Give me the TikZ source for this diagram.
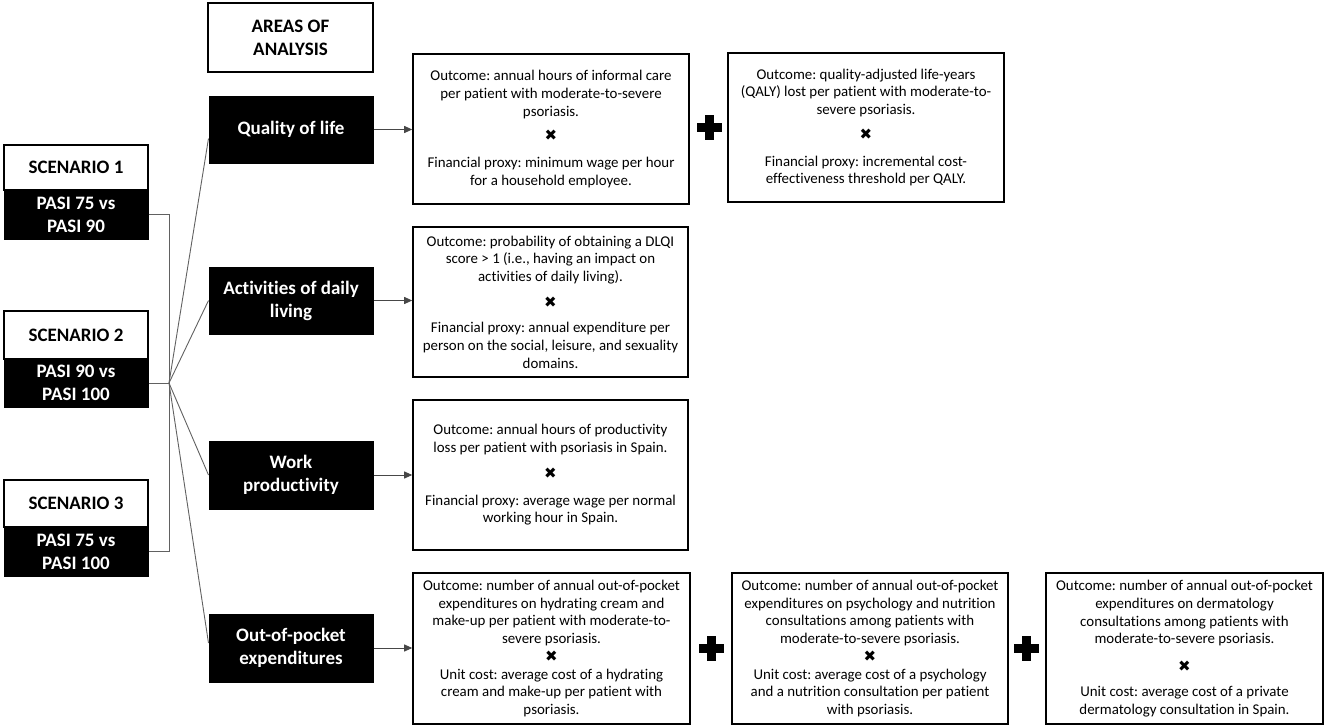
\documentclass[tikz,border=0pt]{standalone}
\usepackage{fontspec}
\setmainfont{Carlito}[Ligatures=NoCommon]
\newfontfamily\dejavu{DejaVu Sans}
\usetikzlibrary{arrows.meta,calc}
\newcommand\mulx{{\dejavu\fontsize{15}{15}\selectfont ✖}}
\frenchspacing
\begin{document}
\begin{tikzpicture}[x=1pt,y=-1pt,
  hfont/.style={font=\fontsize{19}{23}\selectfont\bfseries},
  whitebox/.style={hfont,draw=black,line width=1.5pt,fill=white,align=center,inner sep=0pt},
  blackbox/.style={hfont,draw=black,line width=1pt,fill=black,text=white,align=center,inner sep=0pt},
  outbox/.style={draw=black,line width=1.6pt,align=center,inner sep=0pt,font=\fontsize{14.9}{17.7}\selectfont},
  conn/.style={draw=black!62,line width=0.9pt},
  arr/.style={draw=black!72,line width=0.9pt,-{Triangle[length=8pt,width=7pt]}},
  plussign/.style={fill=black}
]
\useasboundingbox (0,0) rectangle (1325,728);

% header
\node[whitebox,minimum width=165pt,minimum height=69pt] (areas) at (290.5,37.5) {AREAS OF\\ANALYSIS};

% scenarios
\node[whitebox,minimum width=144pt,minimum height=45pt] (s1w) at (76,167.5) {SCENARIO 1};
\node[blackbox,minimum width=144pt,minimum height=49pt] (s1b) at (76,214.5) {PASI 75 vs\\PASI 90};
\node[whitebox,minimum width=144pt,minimum height=48pt] (s2w) at (76,335) {SCENARIO 2};
\node[blackbox,minimum width=144pt,minimum height=48pt] (s2b) at (76,383) {PASI 90 vs\\PASI 100};
\node[whitebox,minimum width=144pt,minimum height=47pt] (s3w) at (76,503.5) {SCENARIO 3};
\node[blackbox,minimum width=144pt,minimum height=49pt] (s3b) at (76,551.5) {PASI 75 vs\\PASI 100};

% areas
\node[blackbox,minimum width=164pt,minimum height=67pt] (qol) at (291,129.5) {Quality of life};
\node[blackbox,minimum width=164pt,minimum height=67pt] (adl) at (291,300.5) {Activities of daily\\living};
\node[blackbox,minimum width=164pt,minimum height=68pt] (work) at (291,475) {Work\\productivity};
\node[blackbox,minimum width=164pt,minimum height=68pt] (oop) at (291,648) {Out-of-pocket\\expenditures};

% outcome boxes
\node[outbox,minimum width=276pt,minimum height=150pt] (q1) at (551,129) {Outcome: annual hours of informal care\\per patient with moderate-to-severe\\psoriasis.\\[7pt]\mulx\\[9pt]Financial proxy: minimum wage per hour\\for a household employee.};
\node[outbox,minimum width=276pt,minimum height=149pt] (q2) at (866,127.5) {Outcome: quality-adjusted life-years\\(QALY) lost per patient with moderate-to-\\severe psoriasis.\\[7pt]\mulx\\[9pt]Financial proxy: incremental cost-\\effectiveness threshold per QALY.};
\node[outbox,minimum width=275pt,minimum height=150pt] (a1) at (550.5,302) {Outcome: probability of obtaining a DLQI\\score > 1 (i.e., having an impact on\\activities of daily living).\\[8pt]\mulx\\[8pt]Financial proxy: annual expenditure per\\person on the social, leisure, and sexuality\\domains.};
\node[outbox,minimum width=275pt,minimum height=150pt] (w1) at (550.5,475) {Outcome: annual hours of productivity\\loss per patient with psoriasis in Spain.\\[8pt]\mulx\\[9pt]Financial proxy: average wage per normal\\working hour in Spain.};
\node[outbox,minimum width=277pt,minimum height=151pt] (o1) at (551.5,648.5) {Outcome: number of annual out-of-pocket\\expenditures on hydrating cream and\\make-up per patient with moderate-to-\\severe psoriasis.\\\mulx\\Unit cost: average cost of a hydrating\\cream and make-up per patient with\\psoriasis.};
\node[outbox,minimum width=276pt,minimum height=151pt] (o2) at (870,648.5) {Outcome: number of annual out-of-pocket\\expenditures on psychology and nutrition\\consultations among patients with\\moderate-to-severe psoriasis.\\\mulx\\Unit cost: average cost of a psychology\\and a nutrition consultation per patient\\with psoriasis.};
\node[outbox,minimum width=277pt,minimum height=151pt] (o3) at (1184.5,648.5) {Outcome: number of annual out-of-pocket\\expenditures on dermatology\\consultations among patients with\\moderate-to-severe psoriasis.\\[10pt]\mulx\\[7pt]Unit cost: average cost of a private\\dermatology consultation in Spain.};

% plus signs
\foreach \cx/\cy in {709/127, 711/648, 1026/648}{
  \fill[plussign] (\cx-12.5,\cy-4.5) rectangle (\cx+12.5,\cy+4.5);
  \fill[plussign] (\cx-4.5,\cy-12.5) rectangle (\cx+4.5,\cy+12.5);
}

% bracket
\coordinate (hub) at (169,383);
\draw[conn] (s1b.east) -| (hub);
\draw[conn] (s3b.east) -| (hub);
\draw[conn] (s2b.east) -- (hub);
\draw[conn] (hub) -- ([yshift=-9pt]qol.west);
\draw[conn] (hub) -- (adl.west);
\draw[conn] (hub) -- (work.west);
\draw[conn] (hub) -- ([yshift=5pt]oop.west);

% arrows
\draw[arr] (qol.east) -- (qol.east -| q1.west);
\draw[arr] (adl.east) -- (adl.east -| a1.west);
\draw[arr] (work.east) -- (work.east -| w1.west);
\draw[arr] (oop.east) -- (oop.east -| o1.west);
\end{tikzpicture}
\end{document}
